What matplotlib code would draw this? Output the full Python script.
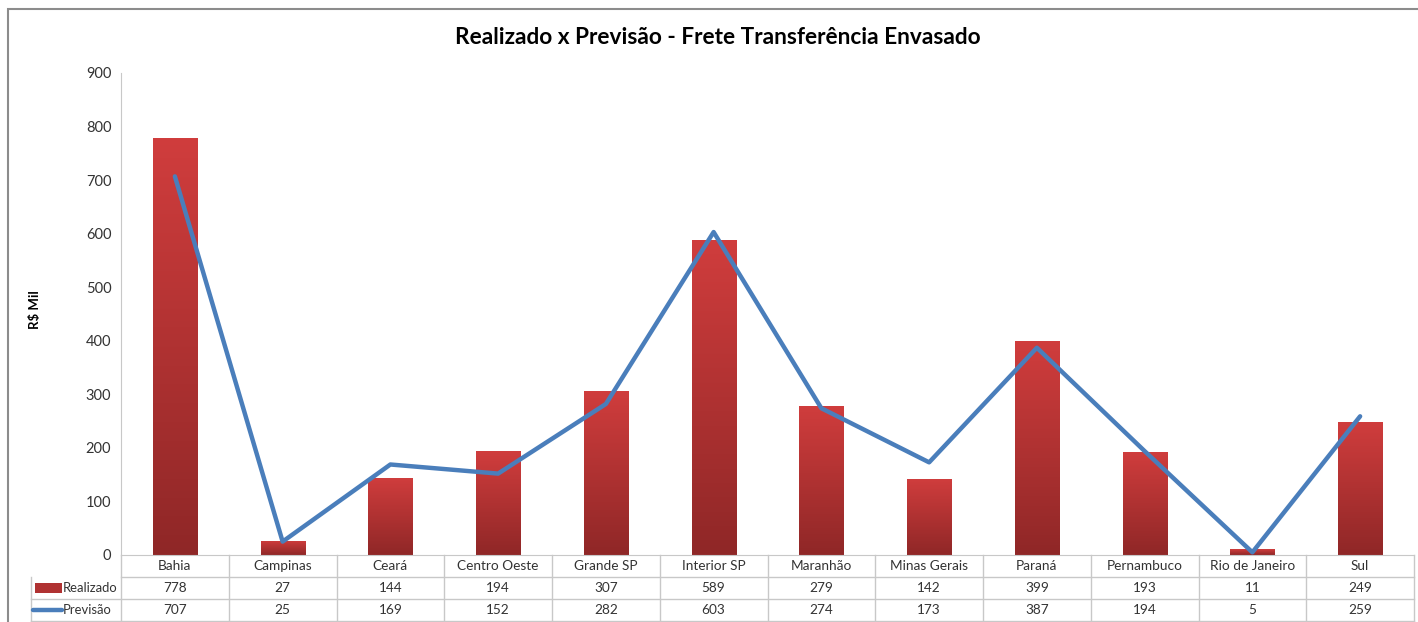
import matplotlib
matplotlib.use("Agg")
import matplotlib.pyplot as plt
import numpy as np
from matplotlib.patches import Rectangle
from matplotlib.lines import Line2D
from matplotlib.colors import LinearSegmentedColormap

categories = ["Bahia", "Campinas", "Ceará", "Centro Oeste", "Grande SP", "Interior SP",
              "Maranhão", "Minas Gerais", "Paraná", "Pernambuco", "Rio de Janeiro", "Sul"]
realizado = [778, 27, 144, 194, 307, 589, 279, 142, 399, 193, 11, 249]
previsao = [707, 25, 169, 152, 282, 603, 274, 173, 387, 194, 5, 259]
yticks = [0, 100, 200, 300, 400, 500, 600, 700, 800, 900]
title = "Realizado x Previsão - Frete Transferência Envasado"
ylabel = "R$ Mil"
series_names = ["Realizado", "Previsão"]

W, H = 1418, 622
fig = plt.figure(figsize=(W / 100, H / 100), dpi=100)
plt.rcParams['font.family'] = ['Lato', 'DejaVu Sans']

# outer frame
fig.patches.append(Rectangle((8 / W, -0.1), 1.2, (H - 9) / H + 0.1, transform=fig.transFigure,
                             fill=False, edgecolor="#8c8c8c", linewidth=1.5))

x0, x1 = 121, 1414
ytop, ybot = 73, 555
ax = fig.add_axes([x0 / W, (H - ybot) / H, (x1 - x0) / W, (ybot - ytop) / H])
n = len(categories)
x = np.arange(n)

bars = ax.bar(x, realizado, width=0.41, color="#c0393a", edgecolor="#e08080", linewidth=0.4, zorder=2)
cmap = LinearSegmentedColormap.from_list("g", ["#8f2727", "#b03232", "#d03d3d"])
grad = np.linspace(0, 1, 256).reshape(-1, 1)
for b in bars:
    bx, by = b.get_x(), b.get_y()
    bw, bh = b.get_width(), b.get_height()
    im = ax.imshow(grad, cmap=cmap, origin="lower", aspect="auto",
                   extent=[bx, bx + bw, by, by + bh], zorder=2.5)
    im.set_clip_path(b)
ax.set_xlim(-0.5, n - 0.5)
ax.set_ylim(0, 900)

ax.plot(x, previsao, color="#4a7ebb", linewidth=3.2, solid_capstyle="round",
        solid_joinstyle="round", zorder=3)

for s in ["top", "right"]:
    ax.spines[s].set_visible(False)
ax.spines["left"].set_color("#c8c8c8")
ax.spines["bottom"].set_color("#c8c8c8")
ax.set_xticks([])
ax.set_yticks(yticks)
ax.tick_params(axis="y", length=0, pad=7, labelsize=10.5, labelcolor="#333333")

fig.text(35 / W, 1 - 310 / H, ylabel, rotation=90, ha="center", va="center",
         fontsize=9.5, fontweight="bold")

fig.text(718 / W, 1 - 38 / H, title, ha="center", va="center", fontsize=16.3, fontweight="bold")

# data table below
gc = "#c8c8c8"
rowh = 22 / (ybot - ytop)
trans = ax.get_xaxis_transform()
cw = (x1 - x0) / n
def px2x(px):
    return -0.5 + (px - x0) / cw
hdr_left = px2x(31)
# horizontal lines
for r in [1, 2, 3]:
    xs = -0.5 if r == 1 else hdr_left
    ax.add_line(Line2D([xs, n - 0.5], [-r * rowh, -r * rowh], transform=trans, color=gc,
                       linewidth=1, clip_on=False))
# vertical lines
for k in range(n + 1):
    ax.add_line(Line2D([k - 0.5, k - 0.5], [0, -3 * rowh], transform=trans, color=gc,
                       linewidth=1, clip_on=False))
ax.add_line(Line2D([hdr_left, hdr_left], [-rowh, -3 * rowh], transform=trans, color=gc,
                   linewidth=1, clip_on=False))

tc = "#333333"
fs = 9.8
for i, c in enumerate(categories):
    ax.text(i, -0.5 * rowh, c, transform=trans, ha="center", va="center", fontsize=fs, color=tc)
    ax.text(i, -1.5 * rowh, str(realizado[i]), transform=trans, ha="center", va="center", fontsize=fs, color=tc)
    ax.text(i, -2.5 * rowh, str(previsao[i]), transform=trans, ha="center", va="center", fontsize=fs, color=tc)

# legend keys in table
ax.add_patch(Rectangle((px2x(35), -1.5 * rowh - 5 / (ybot - ytop)), px2x(62) - px2x(35), 10 / (ybot - ytop),
                       transform=trans, facecolor="#b03232", edgecolor="none", clip_on=False))
ax.add_line(Line2D([px2x(33), px2x(62)], [-2.5 * rowh, -2.5 * rowh], transform=trans, color="#4a7ebb",
                   linewidth=3.2, solid_capstyle="round", clip_on=False))
ax.text(px2x(63), -1.5 * rowh, series_names[0], transform=trans, ha="left", va="center", fontsize=9.4, color=tc)
ax.text(px2x(63), -2.5 * rowh, series_names[1], transform=trans, ha="left", va="center", fontsize=9.4, color=tc)

fig.savefig("out.png", dpi=100)
